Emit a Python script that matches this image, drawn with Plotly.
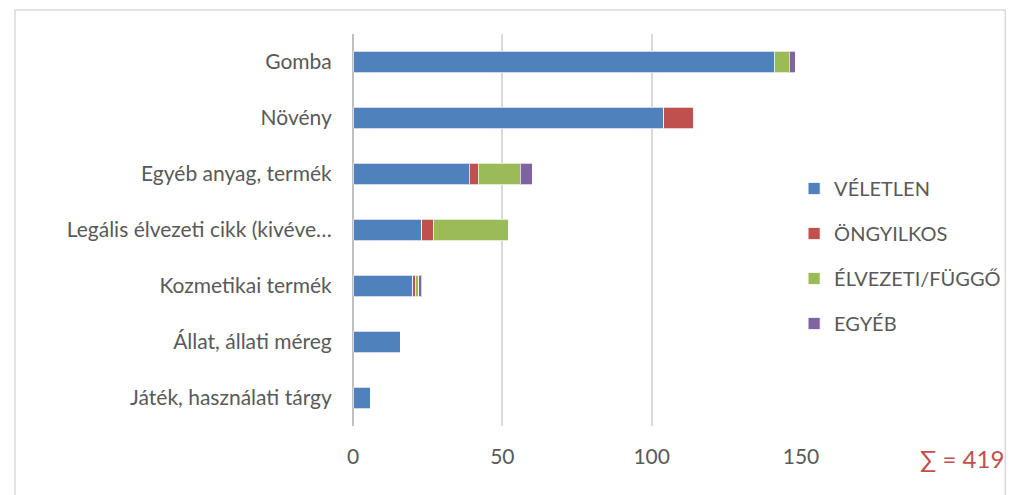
import plotly.graph_objects as go

categories = ["Gomba", "Növény", "Egyéb anyag, termék", "Legális élvezeti cikk (kivéve…",
              "Kozmetikai termék", "Állat, állati méreg", "Játék, használati tárgy"]
veletlen = [141, 104, 39, 23, 20, 16, 6]
ongyilkos = [0, 10, 3, 4, 1, 0, 0]
elvezeti = [5, 0, 14, 25, 1, 0, 0]
egyeb = [2, 0, 4, 0, 1, 0, 0]
series_names = ["VÉLETLEN", "ÖNGYILKOS", "ÉLVEZETI/FÜGGŐ", "EGYÉB"]
series_colors = ["#4F81BD", "#C0504D", "#9BBB59", "#8064A2"]
x_ticks = [0, 50, 100, 150]
total = sum(veletlen) + sum(ongyilkos) + sum(elvezeti) + sum(egyeb)

FONT = "Lato"
GREY = "#595959"

fig = go.Figure()
for name, vals, col in zip(series_names, [veletlen, ongyilkos, elvezeti, egyeb], series_colors):
    fig.add_trace(go.Bar(
        y=categories, x=vals, name=name, orientation="h",
        marker=dict(color=col, line=dict(color="rgba(255,255,255,0.7)", width=1)),
        legendgroup=name,
    ))

W, H = 1018, 495
L, R, T, B = 353, 209, 34, 69
pw, ph = W - L - R, H - T - B

def px(x):
    return (x - L) / pw

def py(y):
    return 1 - (y - T) / ph

fig.update_layout(
    width=W, height=H,
    margin=dict(l=L, r=R, t=T, b=B),
    barmode="stack", bargap=0.61,
    paper_bgcolor="white", plot_bgcolor="white",
    font=dict(family=FONT, size=21, color=GREY),
    showlegend=True,
    legend=dict(x=px(802), y=py(169), xanchor="left", yanchor="top",
                traceorder="grouped", tracegroupgap=16,
                font=dict(family=FONT, size=20, color=GREY),
                itemwidth=30, bgcolor="rgba(0,0,0,0)"),
    xaxis=dict(range=[0, 150], tickvals=x_ticks, showgrid=True, gridcolor="#D9D9D9",
               gridwidth=1.5, zeroline=True, zerolinecolor="#BFBFBF", zerolinewidth=1.5,
               showline=False, ticks="outside", ticklen=12, tickcolor="rgba(0,0,0,0)",
               tickfont=dict(family=FONT, size=21, color=GREY), fixedrange=True),
    yaxis=dict(categoryorder="array", categoryarray=categories, autorange="reversed",
               showgrid=False, showline=False, ticks="outside", ticklen=16,
               tickcolor="rgba(0,0,0,0)",
               tickfont=dict(family=FONT, size=21, color=GREY), fixedrange=True),
    shapes=[dict(type="rect", xref="paper", yref="paper",
                 x0=px(9), x1=px(1017), y0=py(520), y1=py(10),
                 line=dict(color="#D9D9D9", width=1.5), fillcolor="rgba(0,0,0,0)", layer="below")],
    annotations=[dict(xref="paper", yref="paper", x=px(973), y=py(458),
                      xanchor="center", yanchor="middle",
                      text=f"∑ = {total}", showarrow=False,
                      font=dict(family=FONT, size=24, color="#C0504D"))],
)

fig.write_html("out.html", config={"displayModeBar": False},
               post_script="document.body.style.margin='0';document.body.style.overflow='hidden';"
                           "document.body.style.fontVariantLigatures='none';")
